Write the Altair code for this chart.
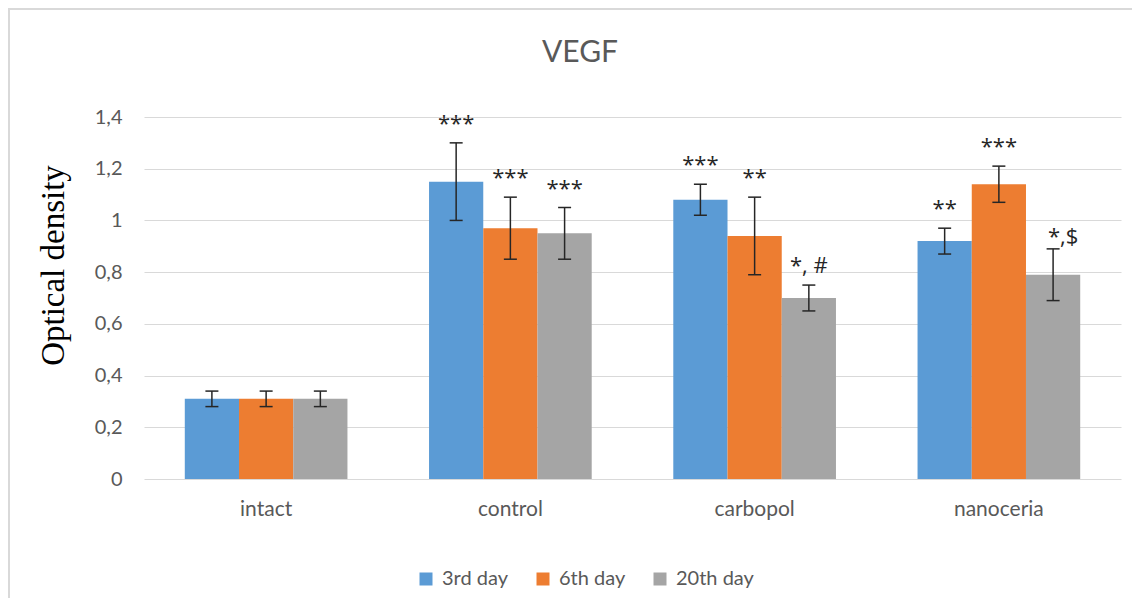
import altair as alt
import pandas as pd

TITLE = "VEGF"
CATEGORIES = ["intact", "control", "carbopol", "nanoceria"]
SERIES = ["3rd day", "6th day", "20th day"]
COLORS = ["#5b9bd5", "#ed7d31", "#a5a5a5"]

VALUES_3RD = [0.31, 1.15, 1.08, 0.92]
VALUES_6TH = [0.31, 0.97, 0.94, 1.14]
VALUES_20TH = [0.31, 0.95, 0.70, 0.79]

ERR_3RD = [0.03, 0.15, 0.06, 0.05]
ERR_6TH = [0.03, 0.12, 0.15, 0.07]
ERR_20TH = [0.03, 0.10, 0.05, 0.10]

LABELS_3RD = ["", "***", "***", "**"]
LABELS_6TH = ["", "***", "**", "***"]
LABELS_20TH = ["", "***", "*, #", "*,$"]

Y_TICKS = [0, 0.2, 0.4, 0.6, 0.8, 1.0, 1.2, 1.4]

rows = []
for s, vals, errs, labs in zip(SERIES, [VALUES_3RD, VALUES_6TH, VALUES_20TH],
                               [ERR_3RD, ERR_6TH, ERR_20TH],
                               [LABELS_3RD, LABELS_6TH, LABELS_20TH]):
    for c, v, e, l in zip(CATEGORIES, vals, errs, labs):
        rows.append({"category": c, "series": s, "value": v,
                     "lo": v - e, "hi": v + e, "label": l})
df = pd.DataFrame(rows)

TEXT_GRAY = "#595959"
GRID = "#d9d9d9"
ERR_COLOR = "#262626"

base = alt.Chart(df).encode(
    x=alt.X("category:N", sort=CATEGORIES,
            scale=alt.Scale(paddingInner=0.334, paddingOuter=0.167),
            axis=alt.Axis(title=None, labelAngle=0, ticks=False, domain=False,
                          labelPadding=19, labelFont="Lato", labelFontSize=21,
                          labelColor=TEXT_GRAY)),
    xOffset=alt.XOffset("series:N", sort=SERIES,
                        scale=alt.Scale(paddingInner=0, paddingOuter=0)),
)

bars = base.mark_bar().encode(
    y=alt.Y("value:Q", scale=alt.Scale(domain=[0, 1.4], nice=False),
            axis=alt.Axis(values=Y_TICKS,
                          labelExpr="replace(format(datum.value, '.1~f'), '.', ',')",
                          grid=True, gridColor=GRID, gridWidth=1,
                          domain=False, ticks=False, tickSize=0,
                          labelPadding=22, labelFont="Lato", labelFontSize=20,
                          labelColor=TEXT_GRAY,
                          title="Optical density", titleFont="Liberation Serif",
                          titleFontSize=33, titleFontWeight="normal",
                          titleColor="#000000", titleAngle=270,
                          titleX=-81, titleY=148, titleAlign="center",
                          titleBaseline="alphabetic")),
    color=alt.Color("series:N", sort=SERIES,
                    scale=alt.Scale(domain=SERIES, range=COLORS),
                    legend=alt.Legend(title=None, orient="none", direction="horizontal",
                                      legendX=272, legendY=452,
                                      symbolType="square", symbolSize=169,
                                      symbolStrokeWidth=0, labelFont="Lato",
                                      labelFontSize=20, labelColor=TEXT_GRAY,
                                      labelOffset=6, columnPadding=24)),
)

rules = base.mark_rule(color=ERR_COLOR, strokeWidth=1.5).encode(
    y="lo:Q", y2="hi:Q")
caps_hi = base.mark_tick(color=ERR_COLOR, thickness=1.5, size=13, opacity=1).encode(y="hi:Q")
caps_lo = base.mark_tick(color=ERR_COLOR, thickness=1.5, size=13, opacity=1).encode(y="lo:Q")

labels = base.mark_text(font="Open Sans", fontSize=22, color="#262626",
                        baseline="alphabetic", align="center", dy=-12).encode(
    y="hi:Q", text="label:N"
).transform_filter("datum.label != '' && datum.label != '*,$'")

labels2 = base.mark_text(font="Open Sans", fontSize=22, color="#262626",
                         baseline="alphabetic", align="center", dx=10, dy=-5).encode(
    y="hi:Q", text="label:N"
).transform_filter("datum.label == '*,$'")

deco = pd.DataFrame({"t": [TITLE]})
title = alt.Chart(deco).mark_text(font="Lato", fontSize=30, color=TEXT_GRAY,
                                  align="center", baseline="alphabetic").encode(
    x=alt.value(436), y=alt.value(-55), text="t:N")
border_left = alt.Chart(deco).mark_rule(color=GRID, strokeWidth=2).encode(
    x=alt.value(-135), y=alt.value(-108), y2=alt.value(481))
border_top = alt.Chart(deco).mark_rule(color=GRID, strokeWidth=2).encode(
    x=alt.value(-136), x2=alt.value(988), y=alt.value(-108))

chart = alt.layer(bars, rules, caps_hi, caps_lo, labels, labels2,
                  title, border_left, border_top).properties(
    width=977, height=362,
    autosize=alt.AutoSizeParams(type="none"),
    padding={"left": 136, "top": 109, "right": 11, "bottom": 119},
).configure_view(stroke=None)

chart.save("out.html", embed_options={"renderer": "svg", "actions": False})
